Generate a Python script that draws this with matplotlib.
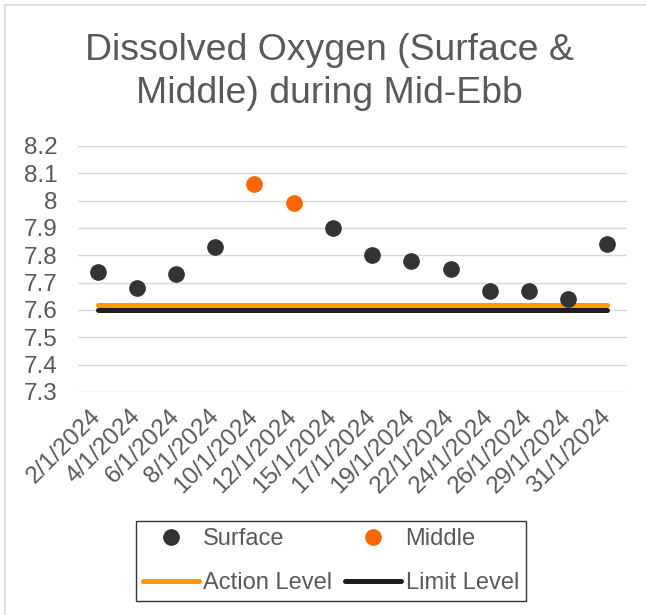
import matplotlib
matplotlib.use("Agg")
import matplotlib.pyplot as plt
import numpy as np
from matplotlib.lines import Line2D

plt.rcParams['font.family'] = ['Liberation Sans', 'DejaVu Sans']

dates = ["2/1/2024", "4/1/2024", "6/1/2024", "8/1/2024", "10/1/2024", "12/1/2024",
         "15/1/2024", "17/1/2024", "19/1/2024", "22/1/2024", "24/1/2024", "26/1/2024",
         "29/1/2024", "31/1/2024"]
surface = [7.74, 7.68, 7.73, 7.83, np.nan, np.nan, 7.90, 7.80, 7.78, 7.75, 7.67, 7.67, 7.64, 7.84]
middle = [np.nan, np.nan, np.nan, np.nan, 8.06, 7.99, np.nan, np.nan, np.nan, np.nan, np.nan, np.nan, np.nan, np.nan]
action_level = [7.62] * len(dates)
limit_level = [7.60] * len(dates)
y_ticks = [7.3, 7.4, 7.5, 7.6, 7.7, 7.8, 7.9, 8.0, 8.1, 8.2]
y_labels = ["7.3", "7.4", "7.5", "7.6", "7.7", "7.8", "7.9", "8", "8.1", "8.2"]

W, H = 646, 615
fig = plt.figure(figsize=(W / 100, H / 100), dpi=100)
TXT = "#595959"

ax = fig.add_axes([78 / W, 1 - 392 / H, (627 - 78) / W, (392 - 146) / H])
x = np.arange(len(dates))
ax.set_xlim(-0.5, len(dates) - 0.5)
ax.set_ylim(7.3, 8.2)
ax.set_yticks(y_ticks)
ax.set_yticklabels(y_labels)
ax.yaxis.grid(True, color="#D9D9D9", linewidth=1.0)
ax.set_axisbelow(True)
for s in ax.spines.values():
    s.set_visible(False)
ax.tick_params(axis='y', length=0, pad=15, labelsize=17.5, labelcolor=TXT)
ax.set_xticks(x)
ax.set_xticklabels(dates, rotation=45, ha='right', va='center', rotation_mode='anchor')
ax.tick_params(axis='x', length=0, pad=15, labelsize=17.5, labelcolor=TXT)

ax.plot(x, action_level, color="#FF9900", lw=3.6, solid_capstyle='round', zorder=2)
ax.plot(x, limit_level, color="#1E1E1E", lw=3.6, solid_capstyle='round', zorder=2)
ax.plot(x, surface, 'o', color="#333333", ms=11, zorder=3)
ax.plot(x, middle, 'o', color="#FF6600", ms=11, zorder=3)

fig.text(0.5 + 6 / W, 1 - 72 / H, "Dissolved Oxygen (Surface &\nMiddle) during Mid-Ebb",
         ha='center', va='center', fontsize=26.9, color=TXT, linespacing=1.32)

handles = [
    Line2D([], [], marker='o', ls='none', color="#333333", ms=11),
    Line2D([], [], color="#FF9900", lw=3.6, solid_capstyle='round'),
    Line2D([], [], marker='o', ls='none', color="#FF6600", ms=11),
    Line2D([], [], color="#1E1E1E", lw=3.6, solid_capstyle='round'),
]
labels = ["Surface", "Action Level", "Middle", "Limit Level"]
leg = fig.legend(handles, labels, ncol=2, loc='center',
                 bbox_to_anchor=((134 + 528) / 2 / W, 1 - 561 / H),
                 fontsize=17, frameon=True, fancybox=False, edgecolor="#000000",
                 handlelength=2.35, handletextpad=0.2, columnspacing=0.55,
                 labelspacing=0.95, borderpad=0.3, borderaxespad=0)
leg.get_frame().set_linewidth(1.0)
for t in leg.get_texts():
    t.set_color(TXT)

# chart area border (left & top only visible)
fig.add_artist(Line2D([4.5 / W, 4.5 / W], [0, 1 - 4.5 / H], color="#D9D9D9", lw=1.2))
fig.add_artist(Line2D([4.5 / W, 1], [1 - 4.5 / H, 1 - 4.5 / H], color="#D9D9D9", lw=1.2))

fig.savefig("out.png", dpi=100)
